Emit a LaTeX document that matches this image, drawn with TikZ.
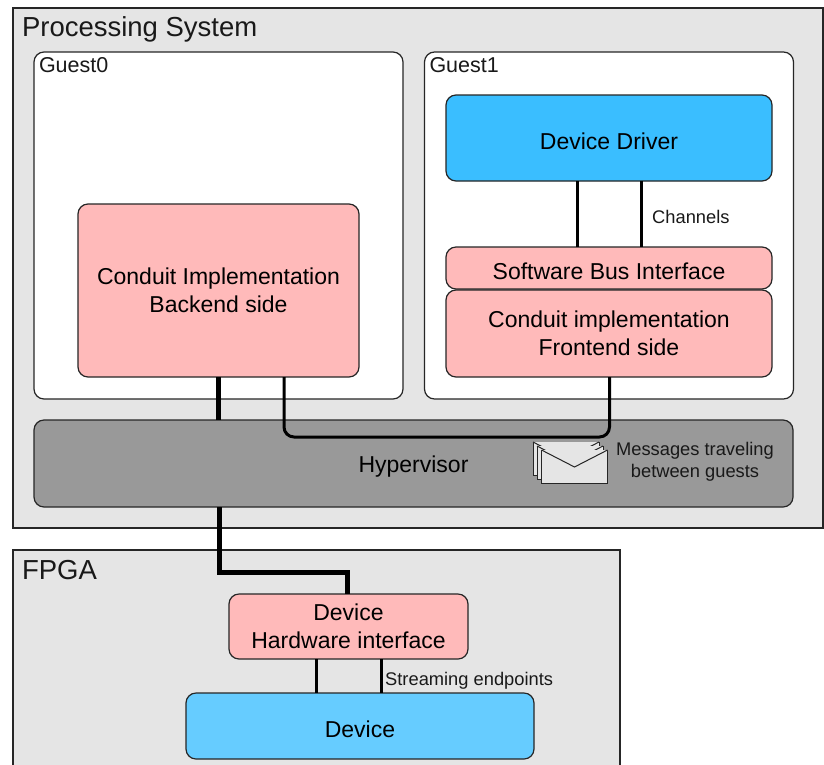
\documentclass[tikz,border=0pt]{standalone}
\usepackage{fontspec}
\setmainfont{Liberation Sans}
\colorlet{panel area}{black!10}
\definecolor{conduit area}{HTML}{FFBABA}
\definecolor{driver area}{HTML}{3ABEFF}
\definecolor{device area}{HTML}{66CCFF}
\definecolor{hyper area}{HTML}{999999}
\tikzset{
  base/.style={draw=black!85, line width=1.2pt, inner sep=0pt, outer sep=0pt, align=center},
  label/.style={inner sep=0pt, outer sep=0pt, anchor=north west, text=black!90}
  }
\tikzstyle{panel} = [base, fill=panel area, rectangle]
\tikzstyle{guest} = [base, fill=white, rounded corners=10pt]
\tikzstyle{block} = [base, rounded corners=10pt, font=\fontsize{23}{28}\selectfont,
  execute at begin node={\rule{0pt}{23pt}}]
\tikzstyle{bus} = [draw, line width=5pt, -, black]
\tikzstyle{link} = [draw, line width=3pt, -, black, rounded corners=10pt]
\tikzstyle{channel} = [draw, line width=3pt, -, black]
\tikzstyle{letter} = [draw=black!85, line width=1pt, fill=panel area]
\tikzstyle{note} = [inner sep=0pt, align=center, text=black!90, font=\fontsize{18.3}{22.5}\selectfont]

\begin{document}
\begin{tikzpicture}[x=1pt, y=-1pt]
    \useasboundingbox (0,0) rectangle (824,764);

    % The two large areas
    \node[panel, minimum width=810pt, minimum height=520pt] (ps) at (418,268) {};
    \node[panel, minimum width=607pt, minimum height=220pt] (fpga) at (316.5,660) {};
    \node[label, font=\fontsize{27.5}{30}\selectfont] (pstitle) at (22,16.5) {Processing System};
    \node[label, font=\fontsize{27.5}{30}\selectfont] (fpgatitle) at (22,560) {FPGA};

    % The guests
    \foreach \pos/\name/\text in {{(218.5,225.5)/guestzero/Guest0}, {(609,225.5)/guestone/Guest1}} {
      \node[guest, minimum width=369pt, minimum height=347pt] (\name) at \pos {};
      \node[label, font=\fontsize{21.5}{24}\selectfont] at ([xshift=5pt, yshift=-5pt]\name.north west) {\text};
    }

    % The blocks inside them
    \node[block, fill=conduit area, minimum width=281pt, minimum height=173pt] (backend) at (218.5,290.5)
      {Conduit Implementation\\Backend side};
    \node[block, fill=driver area, minimum width=326pt, minimum height=86pt] (driver) at (609,138) {Device Driver};
    \node[block, fill=conduit area, minimum width=326pt, minimum height=42pt] (softbus) at (609,268) {Software Bus Interface};
    \node[block, fill=conduit area, minimum width=326pt, minimum height=87pt] (frontend) at (609,333.5)
      {Conduit implementation\\Frontend side};

    \node[block, fill=hyper area, minimum width=759pt, minimum height=87pt] (hyper) at (413.5,463.5) {};
    \node[inner sep=0pt, font=\fontsize{23}{28}\selectfont] (hyperlabel) at (413.5,467) {Hypervisor};

    % The FPGA side
    \node[block, fill=conduit area, minimum width=239pt, minimum height=65pt] (hwif) at (348.5,626.5)
      {Device\\Hardware interface};
    \node[block, fill=device area, minimum width=348pt, minimum height=66pt] (device) at (360,726) {Device};

    % The connections between them
    \path[bus] (backend.south -| 218.5,0) -- (hyper.north -| 218.5,0);
    \path[bus] (hyper.south -| 219.5,0) -- (219.5,572) -- (347,572) -- (hwif.north -| 347,0);
    \path[link] (backend.south -| 284,0) -- (284,437) -- (609.5,437) -- (frontend.south -| 609.5,0);
    \foreach \xpos in {577,641}
      \path[channel] (driver.south -| \xpos,0) -- (softbus.north -| \xpos,0);
    \foreach \xpos in {316.5,381.5}
      \path[channel] (hwif.south -| \xpos,0) -- (device.north -| \xpos,0);

    % The messages
    \foreach \ex/\ey in {533/442, 537/446, 541.5/450} {
      \path[letter] (\ex,\ey) rectangle ++(66,33.5);
      \path[letter] (\ex,\ey) -- ++(33,17) -- ++(33,-17);
    }

    % The small labels
    \node[note, anchor=west] (chlabel) at (652,217) {Channels};
    \node[note, anchor=west] (selabel) at (385,681) {Streaming endpoints};
    \node[note] (msglabel) at (695,462) {Messages traveling\\between guests};
\end{tikzpicture}
\end{document}
